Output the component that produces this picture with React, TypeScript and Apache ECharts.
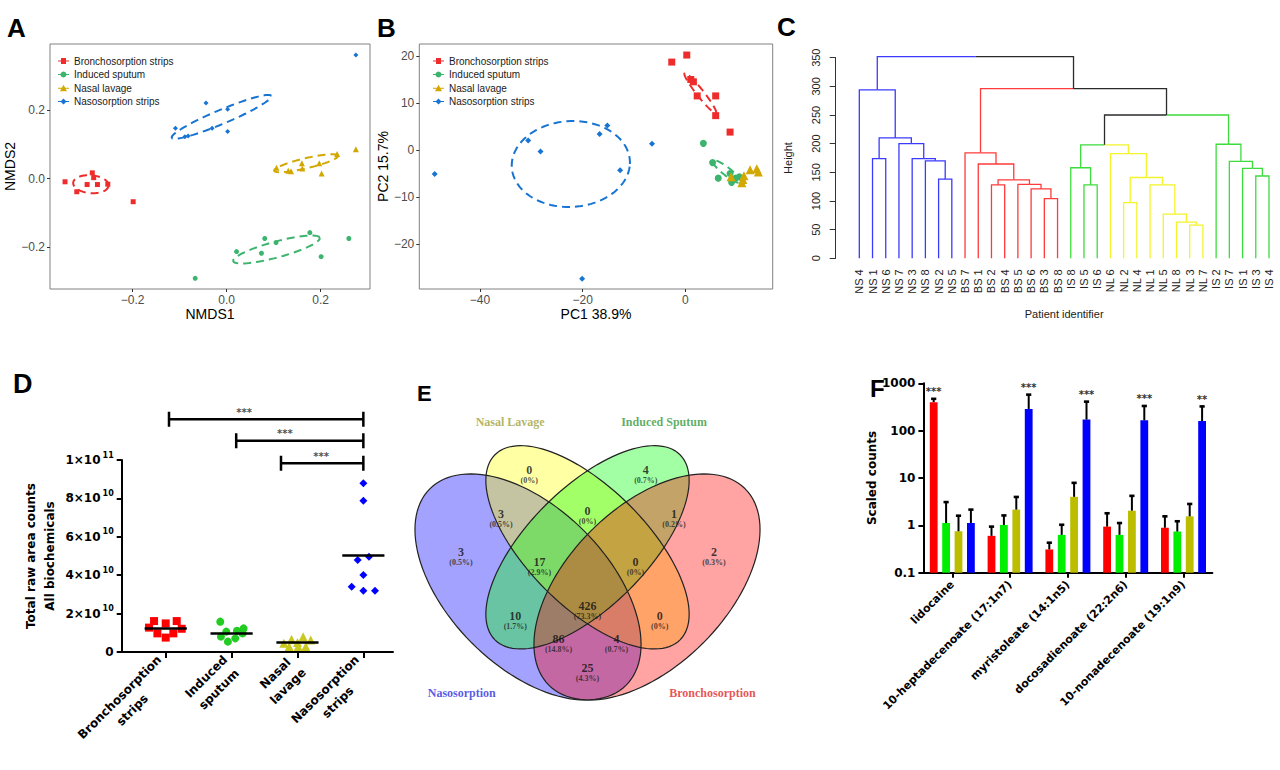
import React, { useEffect, useRef } from 'react';
import * as echarts from 'echarts';

// ================= shared =================
const groupNames = ['Bronchosorption strips', 'Induced sputum', 'Nasal lavage', 'Nasosorption strips'];

// ================= Panel A : NMDS =================
const nmdsTicks = [-0.2, 0, 0.2];
const nmdsBroncho = [[-0.344, -0.009], [-0.319, -0.038], [-0.297, -0.017], [-0.286, 0.017], [-0.283, 0.003], [-0.275, -0.017], [-0.253, -0.016], [-0.199, -0.067]];
const nmdsSputum = [[0.021, -0.212], [0.081, -0.174], [0.074, -0.217], [0.105, -0.186], [0.177, -0.157], [0.201, -0.227], [0.26, -0.174], [-0.067, -0.29]];
const nmdsLavage = [[0.106, 0.032], [0.131, 0.023], [0.137, 0.022], [0.16, 0.045], [0.161, 0.03], [0.197, 0.045], [0.202, 0.015], [0.235, 0.072], [0.275, 0.086]];
const nmdsNaso = [[-0.044, 0.22], [0.002, 0.202], [-0.109, 0.147], [-0.089, 0.122], [-0.082, 0.124], [-0.031, 0.147], [0.002, 0.137], [0.275, 0.36]];
// confidence ellipses: centre, first and second semi-axis vectors (data units)
const nmdsEllipseCenter = [[-0.289, -0.016], [0.106, -0.206], [0.169, 0.045], [-0.011, 0.18]];
const nmdsEllipseAxis1 = [[0.0377, -0.004], [0.0921, 0.034], [0.068, 0.0218], [0.106, 0.061]];
const nmdsEllipseAxis2 = [[0.001, 0.026], [-0.0044, 0.0224], [-0.0024, 0.0142], [-0.0057, 0.0189]];

// ================= Panel B : PCA =================
const pcaXTicks = [-40, -20, 0];
const pcaYTicks = [-20, -10, 0, 10, 20];
const pcaBroncho = [[-2.65, 18.7], [0.27, 20.2], [1.05, 15.0], [1.56, 14.5], [2.3, 11.5], [5.9, 11.5], [5.9, 7.3], [8.7, 3.8]];
const pcaSputum = [[3.5, 1.4], [5.3, -2.7], [6.4, -6.0], [8.7, -5.0], [9.0, -6.9], [9.8, -6.0], [10.5, -5.7]];
const pcaLavage = [[8.9, -5.7], [11.0, -7.0], [11.2, -6.3], [11.4, -5.5], [12.6, -4.2], [13.9, -4.0], [14.2, -4.7]];
const pcaNaso = [[-48.8, -5.1], [-30.6, 2.0], [-28.2, -0.35], [-16.7, 3.4], [-15.2, 5.2], [-12.7, -4.3], [-6.5, 1.3], [-20.1, -27.4]];
const pcaEllipseCenter = [[2.9, 12.1], [8.07, -4.6], null, [-22.3, -3.0]];
const pcaEllipseAxis1 = [[3.06, -4.26], [2.73, -2.34], null, [11.5, 0]];
const pcaEllipseAxis2 = [[0.54, 0.46], [0.48, 0.67], null, [0.4, 9.15]];

// ================= Panel C : dendrogram =================
const leafLabels = ['NS 4', 'NS 1', 'NS 6', 'NS 7', 'NS 3', 'NS 8', 'NS 2', 'NS 5', 'BS 7', 'BS 1', 'BS 2', 'BS 4', 'BS 5', 'BS 6', 'BS 3', 'BS 8', 'IS 8', 'IS 5', 'IS 6', 'NL 6', 'NL 2', 'NL 4', 'NL 1', 'NL 5', 'NL 8', 'NL 3', 'NL 7', 'IS 2', 'IS 7', 'IS 1', 'IS 3', 'IS 4'];
const leafCluster = 'bbbbbbbbrrrrrrrrgggyyyyyyyyggggg'.split('');
// R-style merge table: negative = leaf (1-based), positive = earlier merge (1-based)
const mergeLeft = [-26, -25, -24, -21, -15, -14, -13, -11, -18, -23, 8, -7, 4, -31, -30, -17, -10, -29, -6, -2, -5, -20, -9, 16, -28, -4, 20, 24, -1, 23, 29];
const mergeRight = [-27, 1, 2, -22, -16, 5, 6, -12, -19, 3, 7, -8, 10, -32, 14, 9, 11, 15, 12, -3, 19, 13, 17, 22, 18, 21, 26, 25, 27, 28, 30];
const mergeHeight = [58, 63, 77, 97, 104, 121, 129, 128, 128, 128, 137, 138, 141, 143.6, 157, 158, 164.5, 169, 170, 174, 174, 182.5, 184, 198, 199, 200, 210, 250, 294, 296, 352];
const mergeCluster = ['y', 'y', 'y', 'y', 'r', 'r', 'r', 'r', 'g', 'y', 'r', 'b', 'y', 'g', 'g', 'g', 'r', 'g', 'b', 'b', 'b', 'y', 'r', 'k', 'g', 'b', 'b', 'k', 'b', 'k', 'k'];

// ================= Panel D : total counts =================
const dCategories = ['Bronchosorption\nstrips', 'Induced\nsputum', 'Nasal\nlavage', 'Nasosorption\nstrips'];
const dBronchoX = [0.823, 1.0, 1.167, 0.747, 1.243, 0.874, 1.116, 1.0];
const dBronchoY = [1.61, 1.49, 1.61, 1.27, 1.21, 0.97, 0.97, 0.75];
const dSputumX = [1.828, 1.919, 2.081, 2.182, 2.167, 1.838, 2.056, 1.944];
const dSputumY = [1.58, 1.06, 1.11, 1.23, 0.97, 0.8, 0.71, 0.54];
const dLavageX = [2.793, 2.909, 3.086, 3.202, 2.874, 3.01, 3.126, 3.0];
const dLavageY = [0.45, 0.66, 0.8, 0.63, 0.28, 0.28, 0.28, 0.5];
const dNasoX = [4, 4, 3.914, 4.086, 4, 3.823, 4, 4.177];
const dNasoY = [8.79, 7.88, 4.79, 4.96, 4.01, 3.4, 3.19, 3.19];
const dYTicks = [0, 2, 4, 6, 8, 10]; // x 10^10
const dBracketFrom = [1.05, 2.07, 2.75];
const dBracketTo = [4, 4, 4];
const dBracketY = [12.12, 11.0, 9.83];
const dBracketStarX = [2.19, 2.81, 3.36];
const dBracketStars = ['***', '***', '***'];

// ================= Panel E : Venn =================
const vennSets = ['Nasosorption', 'Nasal Lavage', 'Induced Sputum', 'Bronchosorption'];
const vennCx = [0.35, 0.5, 0.5, 0.65];
const vennCy = [0.47, 0.57, 0.57, 0.47];
const vennA = [0.35, 0.33, 0.33, 0.35];
const vennB = [0.2, 0.15, 0.15, 0.2];
const vennRot = [135, 135, 45, 45];
const vennSetLabelU = [0.183, 0.305, 0.693, 0.815];
const vennSetLabelV = [0.203, 0.885, 0.885, 0.203];
const vennCounts = [0, 4, 3, 3, 0, 1, 2, 17, 0, 10, 426, 0, 86, 4, 25];
const vennPct = ['0%', '0.7%', '0.5%', '0.5%', '0%', '0.2%', '0.3%', '2.9%', '0%', '1.7%', '73.3%', '0%', '14.8%', '0.7%', '4.3%'];
const vennLabelU = [0.353, 0.647, 0.181, 0.282, 0.5, 0.718, 0.819, 0.379, 0.621, 0.318, 0.5, 0.682, 0.427, 0.573, 0.5];
const vennLabelV = [0.765, 0.765, 0.557, 0.654, 0.662, 0.654, 0.557, 0.532, 0.532, 0.398, 0.423, 0.398, 0.339, 0.339, 0.265];

// ================= Panel F : scaled counts =================
const fCategories = ['lidocaine', '10-heptadecenoate (17:1n7)', 'myristoleate (14:1n5)', 'docosadienoate (22:2n6)', '10-nonadecenoate (19:1n9)'];
const fBroncho = [400, 0.6, 0.31, 0.94, 0.89];
const fBronchoErr = [470, 0.94, 0.43, 1.8, 1.55];
const fSputum = [1.12, 1.02, 0.63, 0.63, 0.74];
const fSputumErr = [3.1, 1.62, 1.03, 1.12, 1.22];
const fLavage = [0.75, 2.15, 4.0, 2.04, 1.55];
const fLavageErr = [1.6, 3.98, 7.9, 4.2, 2.83];
const fNaso = [1.12, 287, 171, 165, 160];
const fNasoErr = [2.15, 576, 410, 332, 325];
const fBronchoStars = ['***', '', '', '', ''];
const fSputumStars = ['', '', '', '', ''];
const fLavageStars = ['', '', '', '', ''];
const fNasoStars = ['', '***', '***', '***', '**'];
const fYTicks = [0.1, 1, 10, 100, 1000];

// ================= styles =================
const SANS = 'Liberation Sans';
const BOLD = 'DejaVu Sans';
const SERIF = 'Liberation Serif';
const ggCol = ['#EE2C2C', '#3CB46E', '#D2A800', '#1874D2'];
const dCol = ['#FF0000', '#22CC22', '#C8C81E', '#0000FF'];
const fCol = ['#FF0000', '#00EE00', '#BDBD00', '#0000FF'];
const dendroCol: Record<string, string> = { b: '#3b3bff', r: '#ff3b3b', g: '#3ddc3d', y: '#f4f42a', k: '#2b2b2b' };
const vennFill = ['rgba(0,0,255,0.36)', 'rgba(255,255,0,0.36)', 'rgba(0,255,0,0.36)', 'rgba(255,0,0,0.36)'];
const vennTextCol = ['#2f2fdc', '#9f9f3a', '#36983a', '#e02828'];

function ellipsePoints(c: number[], a1: number[], a2: number[]) {
  const pts: number[][] = [];
  for (let k = 0; k <= 90; k++) {
    const t = (2 * Math.PI * k) / 90;
    pts.push([c[0] + Math.cos(t) * a1[0] + Math.sin(t) * a2[0], c[1] + Math.cos(t) * a1[1] + Math.sin(t) * a2[1]]);
  }
  return pts;
}
const minusFmt = (s: string) => s.replace('-', '\u2212');
const fmtDec = (v: number) => minusFmt(Number(v).toFixed(1));
const fmtInt = (v: number) => minusFmt(String(Math.round(v)));

function buildDendrogram() {
  const mx: number[] = [];
  const childOf = (id: number) => (id < 0 ? { x: -id - 1, h: 0, col: leafCluster[-id - 1] } : { x: mx[id - 1], h: mergeHeight[id - 1], col: mergeCluster[id - 1] });
  for (let i = 0; i < mergeLeft.length; i++) {
    mx.push((childOf(mergeLeft[i]).x + childOf(mergeRight[i]).x) / 2);
  }
  const edges: any[] = [];
  for (let i = 0; i < mergeLeft.length; i++) {
    const px = mx[i];
    const ph = mergeHeight[i];
    [mergeLeft[i], mergeRight[i]].forEach((id) => {
      const c = childOf(id);
      edges.push({ coords: [[c.x, c.h], [c.x, ph], [px, ph]], lineStyle: { color: dendroCol[c.col] } });
    });
  }
  return edges;
}

const mean = (a: number[]) => a.reduce((s, v) => s + v, 0) / a.length;
const zip = (xs: number[], ys: number[]) => xs.map((x, i) => [x, ys[i]]);

function buildOption(): any {
  const dendroEdges = buildDendrogram();
  const legendIcons = [
    'path://M0,3h11v1H0z M3,0.5h5v6H3z',
    'path://M0,3h11v1H0z M5.5,0.5a3,3 0 1,1 -0.01,0z',
    'path://M0,3h11v1H0z M5.5,0L9,6.5H2z',
    'path://M0,3h11v1H0z M5.5,0.5L8.5,3.5L5.5,6.5L2.5,3.5z',
  ];
  const ggSymbols = ['rect', 'circle', 'triangle', 'diamond'];
  const nmdsData = [nmdsBroncho, nmdsSputum, nmdsLavage, nmdsNaso];
  const pcaData = [pcaBroncho, pcaSputum, pcaLavage, pcaNaso];
  const nmdsSizes = [5, 5, 6, 5];
  const pcaSizes = [7, 7, 9, 6];

  const series: any[] = [];
  // ---- A ----
  nmdsEllipseCenter.forEach((c, i) => {
    series.push({ type: 'line', name: 'A-ellipse-' + i, xAxisIndex: 0, yAxisIndex: 0, data: ellipsePoints(c, nmdsEllipseAxis1[i], nmdsEllipseAxis2[i]), showSymbol: false, silent: true, lineStyle: { color: ggCol[i], width: 2, type: [8, 5] }, z: 2 });
  });
  nmdsData.forEach((d, i) => {
    series.push({ type: 'scatter', name: groupNames[i], xAxisIndex: 0, yAxisIndex: 0, data: d, symbol: ggSymbols[i], symbolSize: nmdsSizes[i], itemStyle: { color: ggCol[i], opacity: 1 }, z: 3 });
  });
  // ---- B ----
  pcaEllipseCenter.forEach((c, i) => {
    if (!c) return;
    series.push({ type: 'line', name: 'B-ellipse-' + i, xAxisIndex: 1, yAxisIndex: 1, data: ellipsePoints(c, pcaEllipseAxis1[i] as number[], pcaEllipseAxis2[i] as number[]), showSymbol: false, silent: true, lineStyle: { color: ggCol[i], width: 2, type: [8, 5] }, z: 2 });
  });
  pcaData.forEach((d, i) => {
    series.push({ type: 'scatter', name: groupNames[i], xAxisIndex: 1, yAxisIndex: 1, data: d, symbol: ggSymbols[i], symbolSize: pcaSizes[i], itemStyle: { color: ggCol[i], opacity: 1 }, z: 3 });
  });
  // ---- C ----
  series.push({ type: 'lines', name: 'dendrogram', coordinateSystem: 'cartesian2d', xAxisIndex: 3, yAxisIndex: 2, polyline: true, clip: false, silent: true, data: dendroEdges, lineStyle: { width: 1.3, opacity: 1 } });
  // ---- D ----
  const dXs = [dBronchoX, dSputumX, dLavageX, dNasoX];
  const dYs = [dBronchoY, dSputumY, dLavageY, dNasoY];
  const dSym = ['rect', 'circle', 'triangle', 'diamond'];
  const dSize = [8, 8, 9, 8];
  dXs.forEach((xs, i) => {
    series.push({ type: 'scatter', name: 'D ' + groupNames[i], xAxisIndex: 4, yAxisIndex: 3, data: zip(xs, dYs[i]), symbol: dSym[i], symbolSize: dSize[i], itemStyle: { color: dCol[i], opacity: 1 }, z: 3 });
  });
  series.push({
    type: 'lines', name: 'D means', coordinateSystem: 'cartesian2d', xAxisIndex: 4, yAxisIndex: 3, polyline: false, clip: false, silent: true, z: 4,
    data: dYs.map((ys, i) => ({ coords: [[i + 1 - 0.32, mean(ys)], [i + 1 + 0.32, mean(ys)]] })),
    lineStyle: { color: '#000', width: 2.5, opacity: 1 },
  });
  series.push({
    type: 'lines', name: 'D brackets', coordinateSystem: 'cartesian2d', xAxisIndex: 4, yAxisIndex: 3, polyline: true, clip: false, silent: true, z: 4,
    data: dBracketFrom.map((f, i) => ({ coords: [[f, dBracketY[i] + 0.39], [f, dBracketY[i] - 0.39], [f, dBracketY[i]], [dBracketTo[i], dBracketY[i]], [dBracketTo[i], dBracketY[i] + 0.39], [dBracketTo[i], dBracketY[i] - 0.39]] })),
    lineStyle: { color: '#000', width: 2.5, opacity: 1 },
  });
  series.push({
    type: 'scatter', name: 'D stars', xAxisIndex: 4, yAxisIndex: 3, symbolSize: 0, clip: false, silent: true,
    data: dBracketStarX.map((x, i) => ({ value: [x, dBracketY[i] + 0.36], label: { formatter: dBracketStars[i] } })),
    label: { show: true, position: 'inside', color: '#222', fontFamily: BOLD, fontWeight: 'bold', fontSize: 10 },
  });
  // ---- E ----
  const vennEllipse = (i: number, api: any) => {
    const r = (vennRot[i] * Math.PI) / 180;
    const pts: number[][] = [];
    for (let k = 0; k < 120; k++) {
      const t = (2 * Math.PI * k) / 120;
      const x = vennCx[i] + vennA[i] * Math.cos(t) * Math.cos(r) - vennB[i] * Math.sin(t) * Math.sin(r);
      const y = vennCy[i] + vennA[i] * Math.cos(t) * Math.sin(r) + vennB[i] * Math.sin(t) * Math.cos(r);
      pts.push(api.coord([x, y]));
    }
    return pts;
  };
  series.push({
    type: 'custom', name: 'Venn fill', coordinateSystem: 'cartesian2d', xAxisIndex: 5, yAxisIndex: 4, silent: true, z: 1,
    data: vennCx.map((c, i) => [c, vennCy[i]]),
    renderItem: (params: any, api: any) => ({ type: 'polygon', shape: { points: vennEllipse(params.dataIndex, api) }, style: { fill: vennFill[params.dataIndex], stroke: 'none' } }),
  });
  series.push({
    type: 'custom', name: 'Venn outline', coordinateSystem: 'cartesian2d', xAxisIndex: 5, yAxisIndex: 4, silent: true, z: 2,
    data: vennCx.map((c, i) => [c, vennCy[i]]),
    renderItem: (params: any, api: any) => ({ type: 'polygon', shape: { points: vennEllipse(params.dataIndex, api) }, style: { fill: 'none', stroke: '#222', lineWidth: 1.2 } }),
  });
  series.push({
    type: 'scatter', name: 'Venn counts', xAxisIndex: 5, yAxisIndex: 4, symbolSize: 0, silent: true, z: 5,
    data: vennLabelU.map((u, i) => ({ value: [u, vennLabelV[i]], label: { formatter: `{n|${vennCounts[i]}}\n{p|(${vennPct[i]})}` } })),
    label: {
      show: true, position: 'inside', offset: [0, 5],
      rich: {
        n: { fontFamily: SERIF, fontWeight: 'bold', fontSize: 12, color: '#111', lineHeight: 11, align: 'center' },
        p: { fontFamily: SERIF, fontWeight: 'bold', fontSize: 8, color: '#222', lineHeight: 10, align: 'center' },
      },
    },
  });
  series.push({
    type: 'scatter', name: 'Venn sets', xAxisIndex: 5, yAxisIndex: 4, symbolSize: 0, silent: true, z: 5,
    data: vennSetLabelU.map((u, i) => ({ value: [u, vennSetLabelV[i]], label: { formatter: vennSets[i], color: vennTextCol[i] } })),
    label: { show: true, position: 'inside', fontFamily: SERIF, fontWeight: 'bold', fontSize: 12 },
  });
  // ---- F ----
  const fVals = [fBroncho, fSputum, fLavage, fNaso];
  const fErrs = [fBronchoErr, fSputumErr, fLavageErr, fNasoErr];
  const fStars = [fBronchoStars, fSputumStars, fLavageStars, fNasoStars];
  fVals.forEach((vals, s) => {
    series.push({
      type: 'custom', name: 'F ' + groupNames[s], coordinateSystem: 'cartesian2d', xAxisIndex: 6, yAxisIndex: 5, silent: true, clip: false,
      encode: { x: 0, y: [1, 2] },
      data: vals.map((v, i) => [i, v, fErrs[s][i]]),
      renderItem: (params: any, api: any) => {
        const i = params.dataIndex;
        const ci = api.value(0);
        const top = api.coord([ci, api.value(1)]);
        const base = api.coord([ci, 0.1]);
        const et = api.coord([ci, api.value(2)]);
        const x = top[0] + (s - 1.5) * 12.4;
        const children: any[] = [
          { type: 'rect', shape: { x: x - 3.9, y: top[1], width: 7.8, height: base[1] - top[1] }, style: { fill: fCol[s] } },
          { type: 'line', shape: { x1: x, y1: top[1], x2: x, y2: et[1] }, style: { stroke: '#000', lineWidth: 2 } },
          { type: 'line', shape: { x1: x - 2.6, y1: et[1], x2: x + 2.6, y2: et[1] }, style: { stroke: '#000', lineWidth: 2.6 } },
        ];
        const st = fStars[s][i];
        if (st) {
          children.push({ type: 'text', x, y: et[1] - 2, style: { text: st, align: 'center', verticalAlign: 'bottom', textAlign: 'center', textVerticalAlign: 'bottom', fontSize: 10, fontWeight: 'bold', fontFamily: BOLD, fill: '#333' } });
        }
        return { type: 'group', children };
      },
    });
  });

  const ggTick = { show: true, length: 3, lineStyle: { color: '#333' } };
  const ggLabel = { color: '#4d4d4d', fontSize: 12, fontFamily: SANS, margin: 5 };
  const ggName = { fontSize: 14, color: '#000', fontFamily: SANS };
  const noLine = { show: false, onZero: false };
  const blackLine = { show: true, onZero: false, lineStyle: { color: '#000', width: 2 } };
  const boldTxt = { fontFamily: BOLD, fontWeight: 'bold', color: '#000' };

  return {
    animation: false,
    backgroundColor: '#fff',
    textStyle: { fontFamily: SANS },
    title: [
      { text: 'A', left: 7, top: 15, padding: 0, textStyle: { fontSize: 26, fontWeight: 'bold', fontFamily: SANS, color: '#000' } },
      { text: 'B', left: 377, top: 15, padding: 0, textStyle: { fontSize: 26, fontWeight: 'bold', fontFamily: SANS, color: '#000' } },
      { text: 'C', left: 777, top: 14, padding: 0, textStyle: { fontSize: 26, fontWeight: 'bold', fontFamily: SANS, color: '#000' } },
      { text: 'D', left: 13, top: 370, padding: 0, textStyle: { fontSize: 27, fontWeight: 'bold', fontFamily: SANS, color: '#000' } },
      { text: 'E', left: 417, top: 382, padding: 0, textStyle: { fontSize: 22, fontWeight: 'bold', fontFamily: SANS, color: '#000' } },
      { text: 'F', left: 870, top: 376, padding: 0, textStyle: { fontSize: 24, fontWeight: 'bold', fontFamily: SANS, color: '#000' } },
    ],
    legend: [
      { left: 58, top: 56, orient: 'vertical', itemWidth: 11, itemHeight: 7, itemGap: 3.5, selectedMode: false, padding: 0, textStyle: { fontSize: 10, color: '#1a1a1a', fontFamily: SANS }, data: groupNames.map((n, i) => ({ name: n, icon: legendIcons[i] })) },
      { left: 433, top: 56, orient: 'vertical', itemWidth: 11, itemHeight: 9, itemGap: 3.5, selectedMode: false, padding: 0, textStyle: { fontSize: 10, color: '#1a1a1a', fontFamily: SANS }, data: groupNames.map((n, i) => ({ name: n, icon: legendIcons[i] })) },
    ],
    grid: [
      { left: 50, top: 44, width: 320, height: 245, show: true, borderColor: '#808080', borderWidth: 1, backgroundColor: 'transparent' },
      { left: 419.3, top: 44, width: 353.4, height: 245, show: true, borderColor: '#808080', borderWidth: 1, backgroundColor: 'transparent' },
      { left: 852.7, top: 57.7, width: 422.9, height: 200.6 },
      { left: 121.7, top: 460, width: 271.3, height: 192 },
      { left: 389.2, top: 396.6, width: 396.6, height: 337.1 },
      { left: 923.4, top: 383.3, width: 289, height: 189.4 },
    ],
    xAxis: [
      { gridIndex: 0, type: 'value', min: -0.376, max: 0.305, axisLine: noLine, splitLine: { show: false }, axisTick: { ...ggTick, customValues: nmdsTicks }, axisLabel: { ...ggLabel, customValues: nmdsTicks, formatter: fmtDec }, name: 'NMDS1', nameLocation: 'middle', nameGap: 18, nameTextStyle: ggName },
      { gridIndex: 1, type: 'value', min: -51.8, max: 17.0, axisLine: noLine, splitLine: { show: false }, axisTick: { ...ggTick, customValues: pcaXTicks }, axisLabel: { ...ggLabel, customValues: pcaXTicks, formatter: fmtInt }, name: 'PC1 38.9%', nameLocation: 'middle', nameGap: 18, nameTextStyle: ggName },
      { gridIndex: 2, type: 'category', data: leafLabels, boundaryGap: true, axisLine: noLine, axisTick: { show: false }, axisLabel: { rotate: 90, interval: 0, fontSize: 11, color: '#222', margin: 11, fontFamily: SANS }, name: 'Patient identifier', nameLocation: 'middle', nameGap: 50, nameTextStyle: { fontSize: 11, color: '#222', fontFamily: SANS } },
      { gridIndex: 2, type: 'value', min: -0.5, max: leafLabels.length - 0.5, show: false },
      { gridIndex: 3, type: 'value', min: 0.332, max: 4.45, axisLine: blackLine, splitLine: { show: false }, axisTick: { show: true, customValues: [1, 2, 3, 4], length: 6, lineStyle: { color: '#000', width: 2 } },
        axisLabel: {
          customValues: [1, 2, 3, 4], rotate: 45, margin: 12,
          formatter: (v: number) => dCategories[Math.round(v) - 1].split('\n').map((l) => `{c|${l}}`).join('\n'),
          rich: { c: { ...boldTxt, fontSize: 12, lineHeight: 18, align: 'center' } },
        } },
      { gridIndex: 4, type: 'value', min: 0, max: 1, show: false },
      { gridIndex: 5, type: 'category', data: fCategories, axisLine: blackLine, axisTick: { show: true, alignWithLabel: true, length: 5, lineStyle: { color: '#000', width: 2 } }, axisLabel: { rotate: 45, interval: 0, margin: 10, fontSize: 11, ...boldTxt } },
    ],
    yAxis: [
      { gridIndex: 0, type: 'value', min: -0.321, max: 0.392, axisLine: noLine, splitLine: { show: false }, axisTick: { ...ggTick, customValues: nmdsTicks }, axisLabel: { ...ggLabel, customValues: nmdsTicks, formatter: fmtDec }, name: 'NMDS2', nameLocation: 'middle', nameRotate: 90, nameGap: 30, nameTextStyle: ggName },
      { gridIndex: 1, type: 'value', min: -29.6, max: 22.55, axisLine: noLine, splitLine: { show: false }, axisTick: { ...ggTick, customValues: pcaYTicks }, axisLabel: { ...ggLabel, customValues: pcaYTicks, formatter: fmtInt }, name: 'PC2 15.7%', nameLocation: 'middle', nameRotate: 90, nameGap: 27, nameTextStyle: ggName },
      { gridIndex: 2, type: 'value', min: 0, max: 350, interval: 50, offset: 17, axisLine: { show: true, onZero: false, lineStyle: { color: '#333' } }, axisTick: { show: true, length: 6, lineStyle: { color: '#333' } }, splitLine: { show: false }, axisLabel: { rotate: 90, fontSize: 11, color: '#222', margin: 14, fontFamily: SANS }, name: 'Height', nameLocation: 'middle', nameRotate: 90, nameGap: 42, nameTextStyle: { fontSize: 11, color: '#222', fontFamily: SANS } },
      { gridIndex: 3, type: 'value', min: 0, max: 10, interval: 2, axisLine: blackLine, splitLine: { show: false }, axisTick: { show: true, length: 5, lineStyle: { color: '#000', width: 2 } },
        axisLabel: {
          customValues: dYTicks, margin: 8,
          formatter: (v: number) => (v === 0 ? '{m|0}' : v === 10 ? '{m|1\u00d710}{s|11}' : `{m|${v}\u00d710}{s|10}`),
          rich: { m: { ...boldTxt, fontSize: 12 }, s: { ...boldTxt, fontSize: 8, padding: [0, 0, 10, 2] } },
        },
        name: 'Total raw area counts\nAll biochemicals', nameLocation: 'middle', nameRotate: 90, nameGap: 62, nameTextStyle: { ...boldTxt, fontSize: 12, lineHeight: 19 } },
      { gridIndex: 4, type: 'value', min: 0.1, max: 0.95, show: false },
      { gridIndex: 5, type: 'log', logBase: 10, min: 0.1, max: 1000, axisLine: blackLine, splitLine: { show: false }, minorTick: { show: false }, axisTick: { show: true, customValues: fYTicks, length: 5, lineStyle: { color: '#000', width: 2 } },
        axisLabel: { customValues: fYTicks, margin: 8, fontSize: 12, ...boldTxt, formatter: (v: number) => String(+Number(v).toPrecision(3)) },
        name: 'Scaled counts', nameLocation: 'middle', nameRotate: 90, nameGap: 41, nameTextStyle: { ...boldTxt, fontSize: 12 } },
    ],
    series,
  };
}

export default function App() {
  const ref = useRef<HTMLDivElement>(null);
  useEffect(() => {
    if (!ref.current) return;
    const chart = echarts.init(ref.current, undefined, { renderer: 'svg' });
    chart.setOption(buildOption());
    return () => chart.dispose();
  }, []);
  return <div ref={ref} style={{ position: 'absolute', left: 0, top: 0, width: 1280, height: 770, background: '#fff' }} />;
}
